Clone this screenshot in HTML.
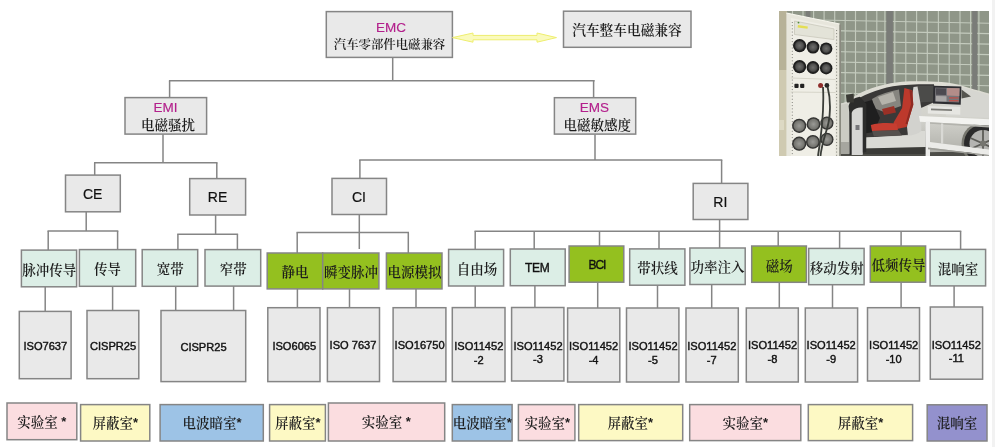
<!DOCTYPE html>
<html lang="zh"><head><meta charset="utf-8"><title>EMC</title>
<style>
html,body{margin:0;padding:0;background:#fff;}
body{width:995px;height:447px;position:relative;overflow:hidden;font-family:"Liberation Sans","Noto Serif CJK SC",sans-serif;color:#1a1a1a;}
.x{position:absolute;width:200px;height:20px;line-height:20px;text-align:center;white-space:nowrap;}
.c{font-family:"Liberation Serif","Noto Serif CJK SC",serif;font-size:13.5px;font-weight:600;color:#1c1c1c;}
.c2{font-family:"Liberation Serif","Noto Serif CJK SC",serif;font-size:12.4px;font-weight:600;color:#1c1c1c;}
.m{color:#b3208c;font-size:13.5px;-webkit-text-stroke:0.15px #b3208c;}
.a{font-size:14px;color:#111;-webkit-text-stroke:0.2px #111;}
.k{font-size:12px;color:#111;letter-spacing:-0.3px;-webkit-text-stroke:0.35px #111;}
.i{font-size:11.1px;color:#111;-webkit-text-stroke:0.4px #111;}
.s{font-family:"Liberation Sans",sans-serif;font-size:13px;position:relative;top:-1px;}
.arrow{position:absolute;}
.dg{position:absolute;left:0;top:0;}
.tx{position:absolute;left:0;top:0;width:995px;height:447px;will-change:transform;}
.edge{position:absolute;left:992px;top:0;width:3px;height:447px;background:#f2f2f2;}
</style></head><body>
<svg class="dg" width="995" height="447" viewBox="0 0 995 447" fill="none" stroke="#858585" stroke-width="1.5">
<path d="M392.7,57.5V80.8"/>
<path d="M168.9,80.8H594.7"/>
<path d="M169.6,80.8V97.7"/>
<path d="M593.6,80.8V97.7"/>
<path d="M163.0,134.2V162.8"/>
<path d="M94.0,162.8H217.5"/>
<path d="M94.7,162.8V175.2"/>
<path d="M216.8,162.8V178.5"/>
<path d="M86.2,212.0V231.0"/>
<path d="M47.5,231.0H118.3"/>
<path d="M48.2,231.0V250.0"/>
<path d="M117.6,231.0V249.6"/>
<path d="M215.6,215.0V234.2"/>
<path d="M177.2,234.2H238.1"/>
<path d="M177.9,234.2V249.6"/>
<path d="M237.4,234.2V249.6"/>
<path d="M595.0,134.2V160.0"/>
<path d="M359.2,160.0H722.3"/>
<path d="M359.9,160.0V178.4"/>
<path d="M721.6,160.0V183.4"/>
<path d="M359.3,214.5V249.0"/>
<path d="M296.5,232.5H409.0"/>
<path d="M297.2,232.5V253.0"/>
<path d="M408.3,232.5V253.0"/>
<path d="M719.6,219.6V248.0"/>
<path d="M474.5,231.3H961.3"/>
<path d="M475.2,231.3V249.4"/>
<path d="M534.2,231.3V248.9"/>
<path d="M599.5,231.3V246.0"/>
<path d="M659.0,231.3V248.9"/>
<path d="M778.2,231.3V245.9"/>
<path d="M839.6,231.3V248.4"/>
<path d="M901.1,231.3V245.9"/>
<path d="M960.6,231.3V249.4"/>
<path d="M45.2,286.8V311.4"/>
<path d="M112.6,286.3V310.5"/>
<path d="M175.7,286.3V310.5"/>
<path d="M233.6,286.0V310.5"/>
<path d="M297.4,289.0V307.7"/>
<path d="M349.5,289.0V307.7"/>
<path d="M416.0,289.0V307.7"/>
<path d="M475.2,286.0V307.6"/>
<path d="M534.9,285.7V307.5"/>
<path d="M597.7,282.2V308.0"/>
<path d="M657.5,285.3V308.0"/>
<path d="M711.7,284.5V308.0"/>
<path d="M779.3,282.3V308.0"/>
<path d="M832.5,284.7V308.0"/>
<path d="M901.1,282.2V307.7"/>
<path d="M954.1,285.9V307.0"/>
<rect x="326.3" y="11.6" width="126.1" height="45.8" fill="#e9e9e9"/>
<rect x="563.5" y="11.2" width="127.5" height="36.1" fill="#e9e9e9"/>
<rect x="125.0" y="97.6" width="81.6" height="36.5" fill="#e9e9e9"/>
<rect x="554.4" y="97.7" width="81.3" height="36.4" fill="#e9e9e9"/>
<rect x="65.5" y="175.1" width="54.8" height="36.7" fill="#e9e9e9"/>
<rect x="189.7" y="178.6" width="55.9" height="36.4" fill="#e9e9e9"/>
<rect x="332.0" y="178.4" width="54.5" height="36.1" fill="#e9e9e9"/>
<rect x="693.2" y="183.4" width="54.7" height="36.1" fill="#e9e9e9"/>
<rect x="21.4" y="250.1" width="55.2" height="36.7" fill="#dceee6"/>
<rect x="79.4" y="249.6" width="56.3" height="36.7" fill="#dceee6"/>
<rect x="142.2" y="249.6" width="55.5" height="36.7" fill="#dceee6"/>
<rect x="205.0" y="249.6" width="55.7" height="36.5" fill="#dceee6"/>
<rect x="267.2" y="253.0" width="55.5" height="35.9" fill="#94c01f"/>
<rect x="322.7" y="253.0" width="56.2" height="35.9" fill="#94c01f"/>
<rect x="386.4" y="253.0" width="55.6" height="35.9" fill="#94c01f"/>
<rect x="448.6" y="249.4" width="55.0" height="36.6" fill="#dceee6"/>
<rect x="629.7" y="248.9" width="55.2" height="36.3" fill="#dceee6"/>
<rect x="689.9" y="248.0" width="55.3" height="36.5" fill="#dceee6"/>
<rect x="751.7" y="246.0" width="54.7" height="36.3" fill="#94c01f"/>
<rect x="808.7" y="248.4" width="55.4" height="36.3" fill="#dceee6"/>
<rect x="870.3" y="246.0" width="55.3" height="36.2" fill="#94c01f"/>
<rect x="930.1" y="249.4" width="55.5" height="36.5" fill="#dceee6"/>
<rect x="510.3" y="249.0" width="54.9" height="36.7" fill="#dceee6"/>
<rect x="569.1" y="246.0" width="54.7" height="36.2" fill="#94c01f"/>
<rect x="19.3" y="311.4" width="51.8" height="67.3" fill="#e9e9e9"/>
<rect x="87.0" y="310.5" width="51.8" height="68.2" fill="#e9e9e9"/>
<rect x="161.0" y="310.5" width="84.7" height="71.1" fill="#e9e9e9"/>
<rect x="267.8" y="307.7" width="52.2" height="73.9" fill="#e9e9e9"/>
<rect x="327.4" y="307.7" width="52.1" height="73.9" fill="#e9e9e9"/>
<rect x="393.1" y="307.7" width="52.8" height="73.9" fill="#e9e9e9"/>
<rect x="452.3" y="307.6" width="52.7" height="74.0" fill="#e9e9e9"/>
<rect x="511.6" y="307.5" width="52.3" height="73.5" fill="#e9e9e9"/>
<rect x="567.6" y="308.0" width="52.2" height="74.0" fill="#e9e9e9"/>
<rect x="626.5" y="308.0" width="52.4" height="74.0" fill="#e9e9e9"/>
<rect x="686.0" y="308.0" width="52.3" height="74.0" fill="#e9e9e9"/>
<rect x="746.3" y="308.0" width="52.0" height="74.0" fill="#e9e9e9"/>
<rect x="805.3" y="308.0" width="52.3" height="74.0" fill="#e9e9e9"/>
<rect x="867.5" y="307.7" width="52.0" height="73.3" fill="#e9e9e9"/>
<rect x="930.3" y="307.0" width="52.3" height="72.2" fill="#e9e9e9"/>
<rect x="7.0" y="403.0" width="69.8" height="36.7" fill="#fbdde0"/>
<rect x="80.6" y="404.6" width="69.2" height="36.4" fill="#fdf9c4"/>
<rect x="160.1" y="404.6" width="103.2" height="36.4" fill="#9dc3e6"/>
<rect x="269.6" y="404.6" width="55.8" height="36.4" fill="#fdf9c4"/>
<rect x="328.4" y="403.0" width="116.3" height="38.0" fill="#fbdde0"/>
<rect x="452.3" y="404.6" width="59.8" height="36.4" fill="#9dc3e6"/>
<rect x="518.4" y="404.6" width="56.5" height="36.0" fill="#fbdde0"/>
<rect x="578.7" y="404.6" width="104.0" height="36.0" fill="#fdf9c4"/>
<rect x="689.7" y="404.6" width="111.1" height="36.0" fill="#fbdde0"/>
<rect x="808.3" y="404.6" width="104.3" height="36.0" fill="#fdf9c4"/>
<rect x="927.2" y="404.8" width="59.8" height="36.2" fill="#9391cd"/>
</svg>
<div class="tx">
<div class="x m" style="left:291.0px;top:17.6px;">EMC</div>
<div class="x c2" style="left:289.5px;top:35.1px;">汽车零部件电磁兼容</div>
<div class="x c" style="left:527.0px;top:21.2px;font-size:13.7px">汽车整车电磁兼容</div>
<div class="x m" style="left:65.5px;top:98.2px;">EMI</div>
<div class="x c" style="left:67.9px;top:115.7px;">电磁骚扰</div>
<div class="x m" style="left:494.3px;top:98.3px;">EMS</div>
<div class="x c" style="left:497.3px;top:115.6px;">电磁敏感度</div>
<div class="x a" style="left:-7.3px;top:183.9px;">CE</div>
<div class="x a" style="left:117.5px;top:187.2px;">RE</div>
<div class="x a" style="left:258.9px;top:186.9px;">CI</div>
<div class="x a" style="left:620.3px;top:192.2px;">RI</div>
<div class="x c" style="left:-50.7px;top:261.2px;">脉冲传导</div>
<div class="x c" style="left:7.5px;top:259.8px;">传导</div>
<div class="x c" style="left:70.2px;top:260.4px;">宽带</div>
<div class="x c" style="left:133.3px;top:260.2px;">窄带</div>
<div class="x c" style="left:195.0px;top:263.4px;">静电</div>
<div class="x c" style="left:251.0px;top:263.4px;">瞬变脉冲</div>
<div class="x c" style="left:314.6px;top:262.9px;">电源模拟</div>
<div class="x c" style="left:377.0px;top:259.6px;">自由场</div>
<div class="x c" style="left:557.4px;top:258.6px;">带状线</div>
<div class="x c" style="left:617.6px;top:258.1px;">功率注入</div>
<div class="x c" style="left:679.2px;top:256.6px;">磁场</div>
<div class="x c" style="left:736.7px;top:258.8px;">移动发射</div>
<div class="x c" style="left:798.5px;top:256.1px;">低频传导</div>
<div class="x c" style="left:858.0px;top:259.9px;">混响室</div>
<div class="x k" style="left:437.2px;top:258.1px;">TEM</div>
<div class="x k" style="left:496.9px;top:254.6px;letter-spacing:-1.1px">BCI</div>
<div class="x i" style="left:-54.7px;top:335.6px;">ISO7637</div>
<div class="x i" style="left:13.1px;top:335.6px;">CISPR25</div>
<div class="x i" style="left:103.5px;top:337.1px;">CISPR25</div>
<div class="x i" style="left:194.3px;top:335.6px;">ISO6065</div>
<div class="x i" style="left:253.0px;top:334.6px;">ISO 7637</div>
<div class="x i" style="left:319.6px;top:334.6px;">ISO16750</div>
<div class="x i" style="left:378.8px;top:336.3px;">ISO11452</div>
<div class="x i" style="left:378.8px;top:349.9px;">-2</div>
<div class="x i" style="left:438.0px;top:335.8px;">ISO11452</div>
<div class="x i" style="left:438.0px;top:349.2px;">-3</div>
<div class="x i" style="left:493.6px;top:336.2px;">ISO11452</div>
<div class="x i" style="left:493.6px;top:349.9px;">-4</div>
<div class="x i" style="left:553.0px;top:336.2px;">ISO11452</div>
<div class="x i" style="left:553.0px;top:349.9px;">-5</div>
<div class="x i" style="left:611.8px;top:336.3px;">ISO11452</div>
<div class="x i" style="left:611.8px;top:349.8px;">-7</div>
<div class="x i" style="left:672.5px;top:335.4px;">ISO11452</div>
<div class="x i" style="left:672.5px;top:348.9px;">-8</div>
<div class="x i" style="left:731.2px;top:335.4px;">ISO11452</div>
<div class="x i" style="left:731.2px;top:348.9px;">-9</div>
<div class="x i" style="left:793.7px;top:334.8px;">ISO11452</div>
<div class="x i" style="left:793.7px;top:348.5px;">-10</div>
<div class="x i" style="left:856.3px;top:334.8px;">ISO11452</div>
<div class="x i" style="left:856.3px;top:348.3px;">-11</div>
<div class="x c" style="left:-58.2px;top:413.1px;">实验室 <span class="s">*</span></div>
<div class="x c" style="left:15.3px;top:413.7px;">屏蔽室<span class="s">*</span></div>
<div class="x c" style="left:112.0px;top:413.8px;">电波暗室<span class="s">*</span></div>
<div class="x c" style="left:197.9px;top:413.8px;">屏蔽室<span class="s">*</span></div>
<div class="x c" style="left:286.3px;top:413.3px;">实验室 <span class="s">*</span></div>
<div class="x c" style="left:382.2px;top:413.8px;">电波暗室<span class="s">*</span></div>
<div class="x c" style="left:447.3px;top:413.8px;">实验室<span class="s">*</span></div>
<div class="x c" style="left:530.3px;top:413.8px;">屏蔽室<span class="s">*</span></div>
<div class="x c" style="left:645.3px;top:413.8px;">实验室<span class="s">*</span></div>
<div class="x c" style="left:760.6px;top:413.8px;">屏蔽室<span class="s">*</span></div>
<div class="x c" style="left:857.0px;top:414.3px;">混响室</div>
</div>
<svg class="arrow" style="left:450px;top:28px" width="110" height="20" viewBox="0 0 110 20"><polygon points="2.5,9.6 23,5 23,7.4 87,7.4 87,5 106.5,9.6 87,14.2 87,11.8 23,11.8 23,14.2" fill="#fafabc" stroke="#eeee6e" stroke-width="1"/></svg>
<svg class="photo" style="position:absolute;left:779px;top:11px" width="210" height="145" viewBox="779 11 210 145">
<defs>
<linearGradient id="body" x1="0" y1="0" x2="0" y2="1"><stop offset="0" stop-color="#e0dfd6"/><stop offset="0.55" stop-color="#d0d0ca"/><stop offset="1" stop-color="#aeaea8"/></linearGradient>
<radialGradient id="fan1"><stop offset="0" stop-color="#6e6e6c"/><stop offset="0.55" stop-color="#4e4e4d"/><stop offset="0.78" stop-color="#222"/><stop offset="1" stop-color="#151515"/></radialGradient>
<radialGradient id="fan2"><stop offset="0" stop-color="#9a9a96"/><stop offset="0.7" stop-color="#74746f"/><stop offset="0.85" stop-color="#3a3a38"/><stop offset="1" stop-color="#222"/></radialGradient>
</defs>
<rect x="779" y="11" width="210" height="145" fill="#8f9688"/>
<g stroke="#c3cabd" stroke-width="1.15">
<path d="M792.5,11V110"/>
<path d="M803.0,11V110"/>
<path d="M813.6,11V110"/>
<path d="M824.1,11V110"/>
<path d="M834.7,11V110"/>
<path d="M845.2,11V110"/>
<path d="M855.5,11V110"/>
<path d="M866.2,11V110"/>
<path d="M876.8,11V110"/>
<path d="M884.9,11V110"/>
<path d="M894.8,11V110"/>
<path d="M905.8,11V110"/>
<path d="M916.6,11V110"/>
<path d="M927.3,11V110"/>
<path d="M938.4,11V110"/>
<path d="M949.2,11V110"/>
<path d="M960.0,11V110"/>
<path d="M970.6,11V110"/>
<path d="M978.9,11V110"/>
<path d="M779,19.2L989,23.3"/>
<path d="M779,29.6L989,33.7"/>
<path d="M779,40.0L989,44.1"/>
<path d="M779,50.5L989,54.6"/>
<path d="M779,60.9L989,65.0"/>
<path d="M779,71.3L989,75.4"/>
<path d="M779,81.7L989,85.8"/>
<path d="M779,92.1L989,96.2"/>
<path d="M779,102.6L989,106.7"/>
</g>
<rect x="886.3" y="11" width="6.6" height="85" fill="#7a7c78"/>
<rect x="972.2" y="11" width="5.1" height="85" fill="#7a7c78"/>
<rect x="805.7" y="11" width="4.7" height="10" fill="#7a7c78"/>
<!-- floor -->
<rect x="838" y="147" width="151" height="9" fill="#4e4e49"/>
<!-- car body -->
<path d="M840,104 L847,101.4 C853,97 858,94 864,91.3 C869,89 874,87.2 879.7,85.7 C887,83.7 894,82.4 902,81.7 C909,81.2 917,81.1 924.5,81.3 C932,81.5 940,81.8 946.9,82.4 C955,83.4 962,85.4 969.2,88 C976,90 983,91.8 989,93.6 L989,151 L840,154 Z" fill="url(#body)"/>
<!-- rear deck lighter -->
<path d="M946,84.5 C957,85.5 972,90 989,95.5 L989,118 L946,116 Z" fill="#d6d6d1"/>
<!-- cabin interior -->
<path d="M853,102 C862,95.5 876,89.5 893,86.2 C905,84.4 920,84 934,84.2 L934.6,102 L921,108 L919,134 L864,138 L858,136 Z" fill="#3a3938"/>
<!-- lighter dash / far door -->
<path d="M872,99 C880,94 890,91 899,89.5 L901,106 L884,112 L874,108 Z" fill="#86857f"/>
<path d="M878,97 L893,92 L896,101 L882,105 Z" fill="#b5b3ab"/>
<path d="M858,104 L872,100 L880,118 L874,132 L861,134 Z" fill="#1f1f1f"/>
<!-- rear quarter glass -->
<path d="M917,85.7 L934.6,85.7 L934.6,101.6 L918.5,102.5 Z" fill="#4b4b49"/>
<path d="M961.5,89.5 L971,96.5 L961.5,98.5 Z" fill="#55554f"/>
<!-- B pillar (silver) -->
<path d="M913.5,87 L917.5,86.5 L921.3,108 L921.3,134 L908,136 L907,127 Z" fill="#d2d2ce"/>
<!-- far seat red -->
<path d="M882,109 L894,106 L896,112.5 L884,115 Z" fill="#9a3026"/>
<!-- seat back -->
<path d="M904.4,88 L912.2,90.2 L913.3,104.7 L906.6,127.1 L894.3,129.4 L893.6,122.6 L902.1,108.1 Z" fill="#bd392c"/>
<path d="M909.5,90 L912.2,90.6 L913.3,104.7 L907.5,124 L905.5,124 L911,104 Z" fill="#8f2a22"/>
<!-- seat cushion -->
<path d="M870.8,125 C878,122.6 889,122.6 896.5,123.4 L898,130.2 L872,131 Z" fill="#c63d30"/>
<path d="M872,131 L898.5,130.2 L902,135.6 L874,136.5 Z" fill="#55504d"/>
<!-- sill -->
<path d="M863,137.6 L905,135.8 C913,135.4 918,134 921.3,131 L925,131 L925,147.2 L863,148.6 Z" fill="#dadad5"/>
<path d="M863,148.4 L926,147 L926,154 L863,154 Z" fill="#3b3b38"/>
<!-- front fender -->
<path d="M840,104.7 L848.4,103.5 L849,154 L840,154 Z" fill="#cbcbc3"/>
<path d="M840,142 L849,142 L849,154 L840,154 Z" fill="#a6a69f"/>
<!-- door -->
<path d="M848.6,106 C850,100.5 854.5,97.6 860,96.8 L866.4,104 L866.2,152 L849.6,155 L849.2,112 Z" fill="#2c2c2b"/>
<path d="M851.7,113 C852.5,109.5 856,107.5 862.7,107.5 L862.7,155 L851.7,155 Z" fill="#d6d6d4"/><rect x="855.5" y="125" width="4" height="5" fill="#77777a"/>
<!-- mirror -->
<path d="M846,95 L853.6,93.5 L854,102.5 L847,102.5 Z" fill="#3a3a35"/>
<!-- wheel -->
<circle cx="983" cy="143.5" r="21.5" fill="#77776f"/>
<circle cx="983" cy="143.5" r="19" fill="#2b2b2b"/>
<circle cx="983" cy="143.5" r="13.5" fill="#b4b4b1"/>
<path d="M983,130 L983,156 M970.5,138 L995,149 M970.5,149 L995,138" stroke="#5d5d58" stroke-width="1.8"/>
<circle cx="983" cy="143.5" r="3" fill="#75756f"/>
<!-- table -->
<path d="M919,115.9 L989,119.2 L989,125.4 L920,121.8 Z" fill="#f3f3f0"/>
<path d="M925.6,121.9 L989,125.4 L989,127.6 L925.6,123.6 Z" fill="#b3b3ad"/>
<rect x="925.6" y="121.5" width="4.4" height="35" fill="#ececea"/>
<rect x="941" y="123.5" width="2.2" height="20" fill="#d9d9d5"/>
<path d="M928,141.7 L989,149.5 L989,155 L928,147.5 Z" fill="#ebebe8"/>
<path d="M928,147.5 L989,155 L989,156 L928,149.2 Z" fill="#9c9c96"/>
<!-- laptop & device -->
<path d="M927.8,105.9 L960.3,107 L960.3,114.8 L927.8,113.6 Z" fill="#e6e6e2"/>
<path d="M931,108.6 L952,109.3 L952,111 L931,110.3 Z" fill="#7d7d78"/>
<path d="M933.4,85.7 L961.4,86.4 L960.7,104.7 L933,103.6 Z" fill="#2d2d31"/>
<path d="M935.2,87.6 L959.6,88.2 L959.1,102.5 L934.9,101.6 Z" fill="#77767a"/>
<path d="M947,88 L959.6,88.3 L959.3,96 L947,95.6 Z" fill="#b38d89"/>
<path d="M936,88.2 L946,88.4 L946,95 L936,94.7 Z" fill="#4c4a50"/>
<path d="M936,96 L946.5,96.3 L946.5,101.6 L936,101.2 Z" fill="#a9a7a6"/>
<rect x="949" y="97.2" width="9.5" height="1.4" fill="#b9534c"/>
<rect x="949" y="100" width="9.5" height="1.4" fill="#b9534c"/>
<!-- cabinet side -->
<rect x="779" y="11" width="8" height="145" fill="#b7b298"/><rect x="779" y="70" width="8" height="86" fill="#cfcab1"/>
<rect x="779" y="120" width="5" height="10" fill="#ddd9c4"/>
<!-- cabinet front -->
<path d="M786.4,13 L839.6,24 L839.6,156 L786.4,156 Z" fill="#e7e6dc"/>
<path d="M790.8,18 L835.5,27 L835.5,156 L790.8,156 Z" fill="#efeee6"/>
<path d="M786.4,13 L839.6,24" stroke="#f7f6ee" stroke-width="1.2"/>
<path d="M840.2,24.5 L840.2,156" stroke="#8a8a80" stroke-width="1.6"/>
<path d="M792.3,22 V156 M836.6,30 V156" stroke="#6b6b64" stroke-width="0.9" stroke-dasharray="0.9 2.3" fill="none"/>
<!-- display panel -->
<path d="M794.5,21 L834,28.9 L834,39.6 L794.5,34.5 Z" fill="#e3e3d8" stroke="#c4c3b6" stroke-width="0.7"/>
<rect x="797.7" y="25.6" width="10" height="2.4" fill="#e4de54" transform="rotate(8 802 27)"/>
<circle cx="798.5" cy="22.6" r="0.9" fill="#4e8a3c"/>
<!-- fans upper -->
<g fill="url(#fan1)">
<circle cx="799.6" cy="45.6" r="6.6"/><circle cx="813" cy="47.1" r="6.4"/><circle cx="826.2" cy="48.6" r="6.2"/>
<circle cx="799.6" cy="66.6" r="6.6"/><circle cx="813" cy="67.5" r="6.4"/><circle cx="826.2" cy="68.2" r="6.2"/>
</g>
<path d="M790.8,78 L835.5,79.5" stroke="#cfcec2" stroke-width="0.8"/>
<path d="M790.8,92 L835.5,92.5" stroke="#cfcec2" stroke-width="0.8"/>
<!-- switches / connectors -->
<rect x="794.4" y="83.8" width="4.2" height="4.2" rx="1" fill="#222"/>
<rect x="800.1" y="83.8" width="4.2" height="4.2" rx="1" fill="#222"/>
<circle cx="820.6" cy="85.4" r="2.5" fill="#8f2d2b"/>
<circle cx="826.9" cy="85.4" r="2.4" fill="#2a2a2a"/>
<!-- fans lower -->
<g fill="url(#fan2)">
<circle cx="799.2" cy="125.8" r="7.1"/><circle cx="813.5" cy="124.2" r="6.9"/><circle cx="826.9" cy="123.1" r="6.6"/>
<circle cx="799.2" cy="143.7" r="7.1"/><circle cx="812.9" cy="141.9" r="6.9"/><circle cx="826.9" cy="139.4" r="6.6"/>
</g>
<!-- cables -->
<path d="M823,87 C824,105 823,125 818,156" fill="none" stroke="#3a3d38" stroke-width="1.8"/>
<path d="M827.6,87 C831,100 831,118 826,132 C823,142 821,150 820.5,156" fill="none" stroke="#3a3d38" stroke-width="1.8"/>
</svg>

<div class="edge"></div>
</body></html>
